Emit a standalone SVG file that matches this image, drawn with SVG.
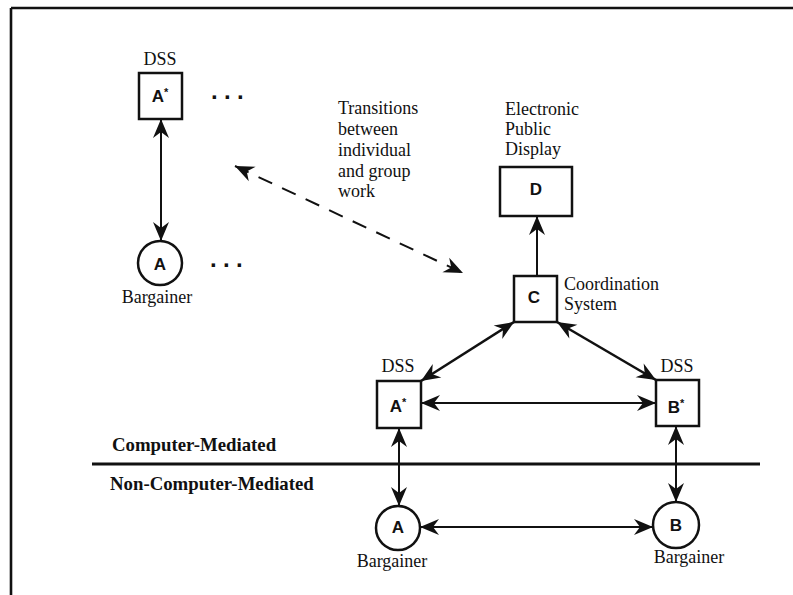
<svg xmlns="http://www.w3.org/2000/svg" width="793" height="595" viewBox="0 0 793 595">
  <style>
    .serif { font-family: "Liberation Serif", "Times New Roman", serif; font-size: 18px; fill: #111; }
    .lbl { font-family: "Liberation Sans", Arial, sans-serif; font-weight: bold; font-size: 17px; fill: #111; text-anchor: middle; }
    .band { font-family: "Liberation Serif", "Times New Roman", serif; font-weight: bold; font-size: 18.8px; fill: #111; }
    .dots { font-family: "Liberation Sans", Arial, sans-serif; font-weight: bold; font-size: 24px; fill: #111; }
    .box { fill: #fff; stroke: #111; stroke-width: 2.5; }
    .link { fill: none; stroke: #111; stroke-width: 2; }
    .thick { stroke-width: 2.6; }
    .dash { stroke-dasharray: 15 11; }
    .mid { text-anchor: middle; }
  </style>
  <defs>
    <marker id="head" viewBox="-20 -10 22 20" refX="0" refY="0" markerWidth="22" markerHeight="20" markerUnits="userSpaceOnUse" orient="auto-start-reverse">
      <path d="M0,0 L-19,-8 L-13,0 L-19,8 Z" fill="#111"/>
    </marker>
  </defs>

  <rect width="793" height="595" fill="#fff"/>

  <!-- frame -->
  <g id="frame" stroke="#111" stroke-width="2.6" fill="none">
    <line x1="11" y1="8" x2="793" y2="8"/>
    <line x1="11" y1="8" x2="11" y2="595"/>
  </g>

  <!-- divider between the two modes -->
  <g id="divider">
    <line x1="92" y1="464" x2="760" y2="464" stroke="#111" stroke-width="3"/>
    <text class="band" x="112" y="451">Computer-Mediated</text>
    <text class="band" x="110" y="490">Non-Computer-Mediated</text>
  </g>

  <!-- connectors -->
  <g id="connectors">
    <line class="link" x1="161" y1="119" x2="161" y2="241" marker-start="url(#head)" marker-end="url(#head)"/>
    <line class="link dash" x1="235" y1="166" x2="463" y2="273" marker-start="url(#head)" marker-end="url(#head)"/>
    <line class="link" x1="537" y1="276" x2="537" y2="216" marker-end="url(#head)"/>
    <line class="link thick" x1="514" y1="322" x2="421" y2="381" marker-start="url(#head)" marker-end="url(#head)"/>
    <line class="link thick" x1="557" y1="322" x2="656" y2="380" marker-start="url(#head)" marker-end="url(#head)"/>
    <line class="link" x1="421" y1="403" x2="656" y2="403" marker-start="url(#head)" marker-end="url(#head)"/>
    <line class="link" x1="399" y1="428" x2="399" y2="506" marker-start="url(#head)" marker-end="url(#head)"/>
    <line class="link" x1="676" y1="426" x2="676" y2="502" marker-start="url(#head)" marker-end="url(#head)"/>
    <line class="link" x1="420" y1="527" x2="653" y2="527" marker-start="url(#head)" marker-end="url(#head)"/>
  </g>

  <!-- individual work: DSS and bargainer -->
  <g id="dss-a-solo">
    <text class="serif mid" x="160" y="65">DSS</text>
    <rect class="box" x="139" y="73" width="43" height="46"/>
    <text class="lbl" x="160" y="102">A<tspan font-size="11" dy="-6">*</tspan></text>
  </g>
  <g id="dots-top">
    <text class="dots" x="211 224 237" y="99">...</text>
  </g>
  <g id="bargainer-a-solo">
    <circle class="box" cx="160" cy="263" r="22"/>
    <text class="lbl" x="160" y="270">A</text>
    <text class="serif mid" x="157" y="303">Bargainer</text>
  </g>
  <g id="dots-bottom">
    <text class="dots" x="210 223 236" y="267">...</text>
  </g>

  <!-- transition note -->
  <g id="transition-note">
    <text class="serif" x="338" y="114">Transitions</text>
    <text class="serif" x="338" y="135">between</text>
    <text class="serif" x="338" y="156">individual</text>
    <text class="serif" x="338" y="177">and group</text>
    <text class="serif" x="338" y="197">work</text>
  </g>

  <!-- group work -->
  <g id="public-display">
    <text class="serif" x="505" y="115">Electronic</text>
    <text class="serif" x="505" y="135">Public</text>
    <text class="serif" x="505" y="155">Display</text>
    <rect class="box" x="500" y="167" width="72" height="49"/>
    <text class="lbl" x="536" y="195">D</text>
  </g>
  <g id="coordination">
    <rect class="box" x="514" y="276" width="43" height="46"/>
    <text class="lbl" x="534" y="303">C</text>
    <text class="serif" x="564" y="290">Coordination</text>
    <text class="serif" x="564" y="310">System</text>
  </g>
  <g id="dss-a">
    <text class="serif mid" x="398" y="372">DSS</text>
    <rect class="box" x="377" y="381" width="44" height="47"/>
    <text class="lbl" x="398" y="412">A<tspan font-size="11" dy="-6">*</tspan></text>
  </g>
  <g id="dss-b">
    <text class="serif mid" x="677" y="372">DSS</text>
    <rect class="box" x="656" y="380" width="43" height="46"/>
    <text class="lbl" x="676" y="413">B<tspan font-size="11" dy="-6">*</tspan></text>
  </g>
  <g id="bargainer-a">
    <circle class="box" cx="398" cy="528" r="22"/>
    <text class="lbl" x="398" y="533">A</text>
    <text class="serif mid" x="392" y="567">Bargainer</text>
  </g>
  <g id="bargainer-b">
    <circle class="box" cx="676" cy="525" r="23"/>
    <text class="lbl" x="676" y="531">B</text>
    <text class="serif mid" x="689" y="563">Bargainer</text>
  </g>
</svg>
